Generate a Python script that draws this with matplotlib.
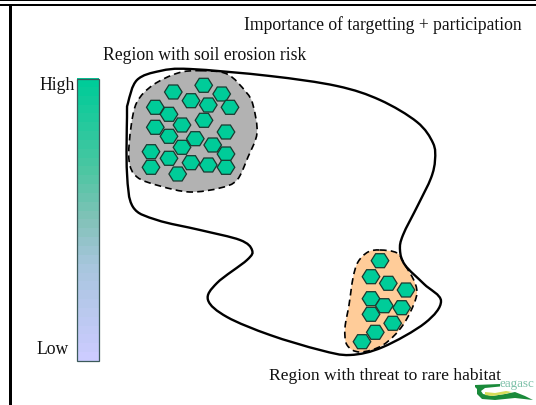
import numpy as np
import matplotlib.pyplot as plt
from matplotlib.patches import PathPatch, Polygon, Rectangle
from matplotlib.path import Path

plt.rcParams['font.family'] = ['Liberation Serif', 'DejaVu Serif']

# hexagon centres (pixels of the slide)
soil_hex_x = [203.7, 173.3, 221.7, 191, 208.3, 155.3, 230, 169, 204, 182, 155.3, 226,
              169, 195.3, 212.7, 182, 151, 226, 169, 191, 208.3, 151, 226, 177.7]
soil_hex_y = [85.3, 92, 94, 100.7, 105, 107.3, 107.3, 114.3, 120.3, 125, 127.3, 132,
              136.3, 138.7, 145, 147.3, 151.7, 154, 158.3, 162.7, 165, 167.3, 167.3, 174]
habitat_hex_x = [380, 371, 388.3, 406, 371, 384.3, 401.7, 371, 392.7, 375.3, 362]
habitat_hex_y = [260.7, 276.7, 283.3, 290, 298.7, 305.7, 307.7, 314.3, 323.3, 332.3, 341.7]

# outlines
catchment_x = [190, 270, 337, 380, 417, 433, 435, 431, 418, 403, 400, 405, 424, 441,
               425, 383, 350, 320, 270, 227, 208, 217, 247, 252, 240, 200, 157, 133, 127,
               127, 128, 137, 160]
catchment_y = [69, 76, 86, 100, 122, 143, 160, 178, 205, 235, 250, 265, 284, 301,
               323, 347, 355, 350, 335, 317, 300, 283, 260, 250, 240, 230, 220, 207, 173,
               117, 103, 80, 71]
soil_x = [200, 227, 246, 253, 257, 248, 237, 220, 190, 160, 137, 129, 131, 137, 153, 178]
soil_y = [70.7, 74, 92, 105, 133, 157, 180, 188, 192, 186, 177, 160, 127, 102, 85, 73]
habitat_x = [380, 397, 405, 415, 416, 403, 383, 360, 347, 345, 349, 353, 358, 368]
habitat_y = [250, 253, 265, 283, 298, 325, 345, 352, 345, 328, 305, 278, 262, 252]

logo_dark_x = [475, 500, 500, 485, 481, 483, 492, 505, 515, 525, 533, 515, 495, 482, 477, 477, 475]
logo_dark_y = [385, 384, 386.5, 388, 391, 394, 396, 394, 392, 396, 400, 398, 400, 399, 394, 389, 387]
logo_light_x = [485, 495, 506, 512, 505, 492, 485]
logo_light_y = [392, 393, 391, 392, 394, 396, 395]

# colour scale stops, top to bottom
scale_pos = [0, 0.33, 0.5, 0.67, 1]
scale_r = [0x00, 0x4F, 0x82, 0xA8, 0xCC]
scale_g = [0xCC, 0xC6, 0xC2, 0xC6, 0xCC]
scale_b = [0x99, 0xA3, 0xB8, 0xDE, 0xFF]

GREEN = '#00CC99'
INK = '#111111'


def closed_curve(xs, ys):
    # Catmull-Rom through the points, written as bezier segments
    p = np.column_stack([xs, ys])
    n = len(p)
    verts = [p[0]]
    codes = [Path.MOVETO]
    for i in range(n):
        p0, p1, p2, p3 = p[i - 1], p[i], p[(i + 1) % n], p[(i + 2) % n]
        verts += [p1 + (p2 - p0) / 6, p2 - (p3 - p1) / 6, p2]
        codes += [Path.CURVE4] * 3
    return Path(verts, codes)


fig = plt.figure(figsize=(5.36, 4.05), dpi=100)
ax = fig.add_axes([0, 0, 1, 1])
ax.axis('off')

# slide frame
ax.add_patch(Rectangle((0, 0), 536, 1.3, fc='black', ec='none'))
ax.add_patch(Rectangle((0, 4), 536, 2.2, fc='black', ec='none'))
ax.add_patch(Rectangle((9.3, 4), 2.9, 401, fc='black', ec='none'))

# colour scale
t = np.linspace(0, 1, 32)
grad = np.stack([np.interp(t, scale_pos, scale_r),
                 np.interp(t, scale_pos, scale_g),
                 np.interp(t, scale_pos, scale_b)], axis=1)[:, None, :] / 255
ax.imshow(grad, extent=(77, 98.5, 361, 78.5), aspect='auto', zorder=2)
ax.set_xlim(0, 536)
ax.set_ylim(405, 0)
ax.add_patch(Rectangle((77, 78.5), 21.5, 282.5, fc='none', ec='#3c5a5a', lw=0.9, zorder=3))

# regions
ax.add_patch(PathPatch(closed_curve(soil_x, soil_y), fc='#B2B2B2', ec='black', lw=1.2,
                       ls=(0, (4, 2.5)), zorder=2))
ax.add_patch(PathPatch(closed_curve(habitat_x, habitat_y), fc='#FFCC99', ec='black', lw=1.2,
                       ls=(0, (4, 2.5)), zorder=2))
ax.add_patch(PathPatch(closed_curve(catchment_x, catchment_y), fc='none', ec='black', lw=1.7,
                       zorder=3))

# hexagons: flat top, wider than tall
hex_shape = np.array([(-8.8, 0), (-4.4, -7), (4.4, -7), (8.8, 0), (4.4, 7), (-4.4, 7)])
for x, y in zip(soil_hex_x + habitat_hex_x, soil_hex_y + habitat_hex_y):
    ax.add_patch(Polygon(hex_shape + (x, y), closed=True, fc=GREEN, ec='#1a3a30', lw=0.9, zorder=4))

# labels
ax.text(244, 25, 'Importance of targetting + participation', fontsize=12.7, va='center', color=INK)
ax.text(103, 55, 'Region with soil erosion risk', fontsize=12.7, va='center', color=INK)
ax.text(39, 86, 'High', fontsize=12.7, va='center', color=INK)
ax.text(36, 350, 'Low', fontsize=12.7, va='center', color=INK)
ax.text(269, 376, 'Region with threat to rare habitat', fontsize=12.6, va='center', color=INK)

# logo
ax.text(500, 384, 'eagasc', fontsize=9.4, va='center', color='#7CC0A8', zorder=5)
ax.add_patch(Polygon(np.column_stack([logo_dark_x, logo_dark_y]), closed=True, fc='#1A8A3A', ec='none', zorder=5))
ax.add_patch(Polygon(np.column_stack([logo_light_x, logo_light_y]), closed=True, fc='#D6DC5A', ec='none', zorder=6))

fig.savefig('out.png', dpi=100)
